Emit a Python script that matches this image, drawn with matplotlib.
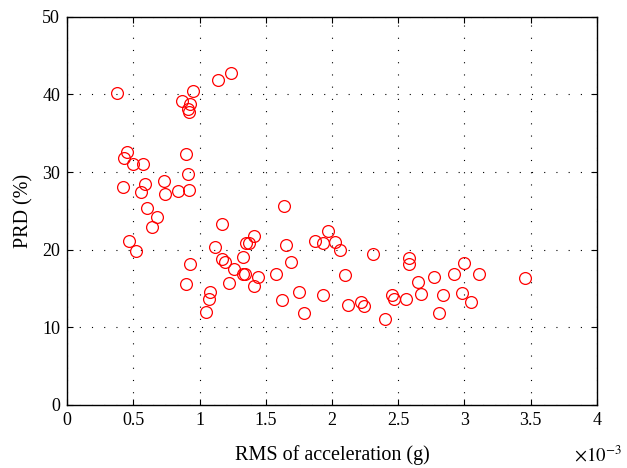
import matplotlib
matplotlib.use("Agg")
import matplotlib.pyplot as plt
import numpy as np

plt.rcParams['font.family'] = ['Liberation Serif', 'DejaVu Serif']
plt.rcParams['mathtext.fontset'] = 'stix'

# RMS of acceleration (x1e-3 g) and PRD (%)
rms = [0.38, 1.14, 1.24, 0.95, 0.87, 0.93, 0.91, 0.92,
       0.455, 0.43, 0.50, 0.57, 0.90, 0.91, 0.42, 0.59, 0.73, 0.56, 0.74, 0.84, 0.92,
       0.60, 0.68, 0.64, 0.47, 0.52, 0.93, 0.90,
       1.17, 1.41, 1.37, 1.35, 1.12, 1.33, 1.17, 1.19, 1.26, 1.33, 1.34, 1.44,
       1.41, 1.22, 1.08, 1.07, 1.05,
       1.635, 1.97, 1.87, 1.93, 2.02, 2.06, 1.65, 1.69, 1.58, 2.31, 2.10,
       2.58, 2.58, 2.65, 2.77, 1.75, 1.62, 1.93, 1.79, 2.12, 2.22, 2.24,
       2.45, 2.47, 2.56, 2.67, 2.40, 2.84, 2.81,
       2.92, 3.00, 2.98, 3.05, 3.11, 3.46]
prd = [40.2, 41.8, 42.8, 40.5, 39.2, 38.8, 38.1, 37.8,
       32.6, 31.8, 31.1, 31.1, 32.3, 29.8, 28.1, 28.5, 28.8, 27.4, 27.2, 27.5, 27.7,
       25.4, 24.2, 22.9, 21.1, 19.8, 18.2, 15.6,
       23.3, 21.7, 20.8, 20.9, 20.3, 19.1, 18.8, 18.4, 17.5, 16.9, 16.9, 16.5,
       15.3, 15.7, 14.5, 13.6, 11.9,
       25.6, 22.4, 21.1, 20.8, 21.0, 19.9, 20.6, 18.4, 16.9, 19.4, 16.7,
       18.9, 18.1, 15.8, 16.5, 14.5, 13.5, 14.2, 11.8, 12.8, 13.2, 12.7,
       14.1, 13.6, 13.7, 14.3, 11.0, 14.2, 11.8,
       16.8, 18.3, 14.4, 13.2, 16.8, 16.3]

xticks = [0, 0.5, 1, 1.5, 2, 2.5, 3, 3.5, 4]
xticklabels = ['0', '0.5', '1', '1.5', '2', '2.5', '3', '3.5', '4']
yticks = [0, 10, 20, 30, 40, 50]

fig = plt.figure(figsize=(6.27, 4.68), dpi=100)
ax = fig.add_axes([0.107, 0.135, 0.845, 0.829])

ax.plot(rms, prd, linestyle='none', marker='o', markersize=8.5,
        markerfacecolor='none', markeredgecolor='#ff0000', markeredgewidth=0.9)

ax.set_xlim(0, 4)
ax.set_ylim(0, 50)
ax.set_xticks(xticks)
ax.set_xticklabels(xticklabels)
ax.set_yticks(yticks)

ax.grid(True, color='black', linestyle=(0, (1, 10)), linewidth=0.8)
ax.tick_params(direction='in', top=True, right=True, labelsize=13, length=4, pad=5)
for s in ax.spines.values():
    s.set_linewidth(1.0)

ax.set_xlabel('RMS of acceleration (g)', fontsize=14.5, labelpad=12)
ax.set_ylabel('PRD (%)', fontsize=14.5, labelpad=6)
# exponent label, as MATLAB puts it under the right end of the x axis
fig.text(0.992, 0.028, r'$\times10^{-3}$', ha='right', va='center', fontsize=13.5)

fig.savefig('out.png', dpi=100)
